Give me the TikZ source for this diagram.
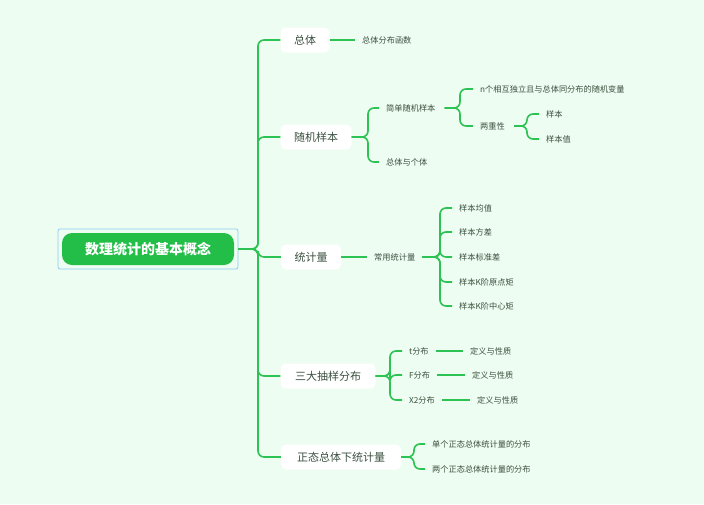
\documentclass[tikz,border=0pt]{standalone}
\usepackage{fontspec}
\setmainfont{Noto Sans CJK SC}
\begin{document}
\begin{tikzpicture}[x=1pt,y=-1pt,
 br/.style={draw=lg,line width=1.6pt,rounded corners=6pt},
 l1/.style={fill=white,rounded corners=5pt,minimum height=25pt,inner xsep=7pt,font=\fontsize{11}{13}\selectfont,text=tx},
 lf/.style={anchor=west,inner xsep=1pt,font=\fontsize{8.2}{10}\selectfont,text=tx}]
\definecolor{bg}{HTML}{EEFDF1}\definecolor{lg}{HTML}{2DC254}\definecolor{tx}{HTML}{3A5040}
\definecolor{rt}{HTML}{22BE48}\definecolor{bl}{HTML}{8CCBF5}
\fill[bg] (0,0) rectangle (704,504);
\useasboundingbox (0,0) rectangle (704,504);
\node[draw=bl,line width=0.8pt,rounded corners=2pt,minimum width=180pt,minimum height=40pt] (rb) at (148,249) {};
\node[fill=rt,rounded corners=10pt,minimum width=172pt,minimum height=32pt,text=white,font=\fontsize{14}{16}\selectfont\bfseries] (r) at (148,249) {数理统计的基本概念};
\node[l1,minimum width=49pt] (a) at (305,40) {总体};
\node[l1,minimum width=71pt] (b) at (316,137) {随机样本};
\node[l1,minimum width=60pt] (c) at (311,257) {统计量};
\node[l1,minimum width=95pt] (d) at (328,376) {三大抽样分布};
\node[l1,minimum width=120pt] (e) at (341,457) {正态总体下统计量};
\coordinate (s0) at (258,0);
\foreach \n in {a,b,c,d,e} \draw[br] (rb.east) -- (rb.east -| s0) |- (\n.west);
\node[lf] (a1) at (361,40) {总体分布函数};
\draw[br] (a.east) -- ([xshift=-6pt]a1.west);
\node[lf] (b1) at (385,108) {简单随机样本};
\node[lf] (b2) at (385,162) {总体与个体};
\coordinate (s1) at (368,0);
\foreach \n in {b1,b2} \draw[br] (b.east) -- (b.east -| s1) |- ([xshift=-6pt]\n.west);
\node[lf] (b11) at (479,89) {n个相互独立且与总体同分布的随机变量};
\node[lf] (b12) at (479,126) {两重性};
\coordinate (s2) at (460,0);
\foreach \n in {b11,b12} \draw[br] ([xshift=8pt]b1.east) -- (b1.east -| s2) |- ([xshift=-6pt]\n.west);
\node[lf] (b121) at (545,114) {样本};
\node[lf] (b122) at (545,139) {样本值};
\coordinate (s3) at (527,0);
\foreach \n in {b121,b122} \draw[br] ([xshift=8pt]b12.east) -- (b12.east -| s3) |- ([xshift=-6pt]\n.west);
\node[lf] (c1) at (373,257) {常用统计量};
\draw[br] (c.east) -- ([xshift=-6pt]c1.west);
\coordinate (s4) at (440,0);
\foreach \t/\y [count=\i] in {样本均值/208,样本方差/232,样本标准差/257,样本K阶原点矩/282,样本K阶中心矩/306}{
 \node[lf] (c1\i) at (458,\y) {\t};
 \draw[br] ([xshift=6pt]c1.east) -- (c1.east -| s4) |- ([xshift=-6pt]c1\i.west);}
\coordinate (s5) at (390,0);
\foreach \t/\y/\xx [count=\i] in {t分布/351/469,F分布/375/471,X2分布/400/476}{
 \node[lf] (d\i) at (408,\y) {\t};
 \draw[br] (d.east) -- (d.east -| s5) |- ([xshift=-6pt]d\i.west);
 \node[lf] (dd\i) at (\xx,\y) {定义与性质};
 \draw[br] ([xshift=6pt]d\i.east) -- ([xshift=-6pt]dd\i.west);}
\coordinate (s6) at (414,0);
\node[lf] (e1) at (431,444) {单个正态总体统计量的分布};
\node[lf] (e2) at (431,469) {两个正态总体统计量的分布};
\foreach \n in {e1,e2} \draw[br] (e.east) -- (e.east -| s6) |- ([xshift=-6pt]\n.west);
\end{tikzpicture}
\end{document}
